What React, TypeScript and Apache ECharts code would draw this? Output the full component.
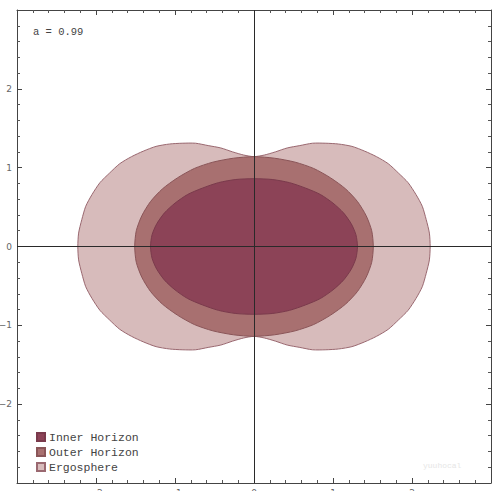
import React, { useEffect, useRef } from "react";
import * as echarts from "echarts";

// Upper-right quadrant boundary points (x, y in plot units)
const ergoX = [0, 0.13, 0.27, 0.42, 0.58, 0.74, 0.91, 1.07, 1.24, 1.4, 1.55, 1.7, 1.83, 1.95, 2.05, 2.13, 2.18, 2.22, 2.23];
const ergoY = [1.14, 1.16, 1.2, 1.25, 1.28, 1.31, 1.31, 1.3, 1.27, 1.21, 1.14, 1.05, 0.93, 0.81, 0.66, 0.51, 0.34, 0.17, 0];

const outerX = [0, 0.26, 0.52, 0.755, 0.97, 1.16, 1.31, 1.42, 1.49, 1.51];
const outerY = [1.14, 1.12, 1.07, 0.99, 0.87, 0.73, 0.57, 0.39, 0.2, 0];

const innerX = [0, 0.23, 0.45, 0.655, 0.84, 1.0, 1.13, 1.23, 1.29, 1.31];
const innerY = [0.86, 0.85, 0.81, 0.74, 0.66, 0.55, 0.43, 0.29, 0.15, 0];

const seriesNames = ["Inner Horizon", "Outer Horizon", "Ergosphere"];
const tickLabels = ["-2", "-1", "0", "1", "2"];
const spinLabel = "a = 0.99";

function loop(xs: number[], ys: number[]): number[][] {
  const n = xs.length;
  const pts: number[][] = [];
  for (let i = 0; i < n; i++) pts.push([xs[i], ys[i]]);
  for (let i = n - 2; i >= 0; i--) pts.push([xs[i], -ys[i]]);
  for (let i = 1; i < n; i++) pts.push([-xs[i], -ys[i]]);
  for (let i = n - 2; i >= 1; i--) pts.push([-xs[i], ys[i]]);
  return pts;
}

function shapeSeries(name: string, pts: number[][], fill: string, stroke: string, extra: any = {}) {
  return {
    type: "custom",
    name,
    data: pts,
    encode: { x: 0, y: 1 },
    itemStyle: { color: fill, borderColor: stroke, borderWidth: 1 },
    renderItem: (params: any, api: any) => {
      if (params.dataIndex !== 0) return null;
      const points = pts.map((p) => api.coord(p));
      return {
        type: "polygon",
        shape: { points, smooth: 0.25 },
        style: { fill, stroke, lineWidth: 1 },
      };
    },
    ...extra,
  };
}

function axis(position: string, labels: boolean) {
  return {
    type: "value",
    position,
    min: -3,
    max: 3,
    interval: 1,
    axisLine: { show: true, onZero: false, lineStyle: { color: "#444", width: 1 } },
    axisTick: { show: true, inside: true, length: 5, lineStyle: { color: "#444" } },
    minorTick: { show: true, splitNumber: 5, length: 3, lineStyle: { color: "#555" } },
    splitLine: { show: false },
    minorSplitLine: { show: false },
    axisLabel: {
      show: labels,
      margin: 5,
      fontSize: 9,
      color: "#666",
      fontFamily: "DejaVu Sans",
      formatter: (v: number) => {
        const s = String(Math.round(v));
        return tickLabels.includes(s) ? s.replace("-", "\u2212") : "";
      },
    },
  };
}

export default function App() {
  const ref = useRef<HTMLDivElement>(null);
  useEffect(() => {
    if (!ref.current) return;
    const chart = echarts.init(ref.current, null, { renderer: "svg" });
    chart.setOption({
      animation: false,
      grid: { left: 17, right: 2, top: 10, bottom: 8, outerBoundsMode: "none" },
      xAxis: [axis("bottom", true), axis("top", false)],
      yAxis: [axis("left", true), axis("right", false)],
      legend: {
        orient: "vertical",
        left: 31,
        top: 426,
        icon: "rect",
        itemWidth: 8,
        itemHeight: 8,
        itemGap: 3,
        data: seriesNames,
        textStyle: { fontFamily: "Liberation Mono", fontSize: 11.5, color: "#444", padding: [0, 0, 0, -1] },
      },
      graphic: [
        {
          type: "text",
          left: 33,
          top: 26,
          style: { text: spinLabel, font: "10.5px 'Liberation Mono'", fill: "#444" },
        },
        {
          type: "text",
          left: 423,
          top: 461,
          style: { text: "yuuhocal", font: "8px 'Liberation Mono'", fill: "#e6e6e6" },
        },
      ],
      series: [
        shapeSeries(seriesNames[2], loop(ergoX, ergoY), "#D7BBBB", "#9A6870"),
        shapeSeries(seriesNames[1], loop(outerX, outerY), "#A87070", "#8A5558"),
        shapeSeries(seriesNames[0], loop(innerX, innerY), "#8C4357", "#7A3A4C", {
          markLine: {
            silent: true,
            symbol: "none",
            label: { show: false },
            lineStyle: { color: "#2a2a2a", width: 1, type: "solid" },
            data: [{ xAxis: 0 }, { yAxis: 0 }],
          },
        }),
      ],
    });
    return () => chart.dispose();
  }, []);
  return (
    <div
      ref={ref}
      style={{ position: "fixed", left: 0, top: 0, width: 493, height: 491, background: "#fff" }}
    />
  );
}
